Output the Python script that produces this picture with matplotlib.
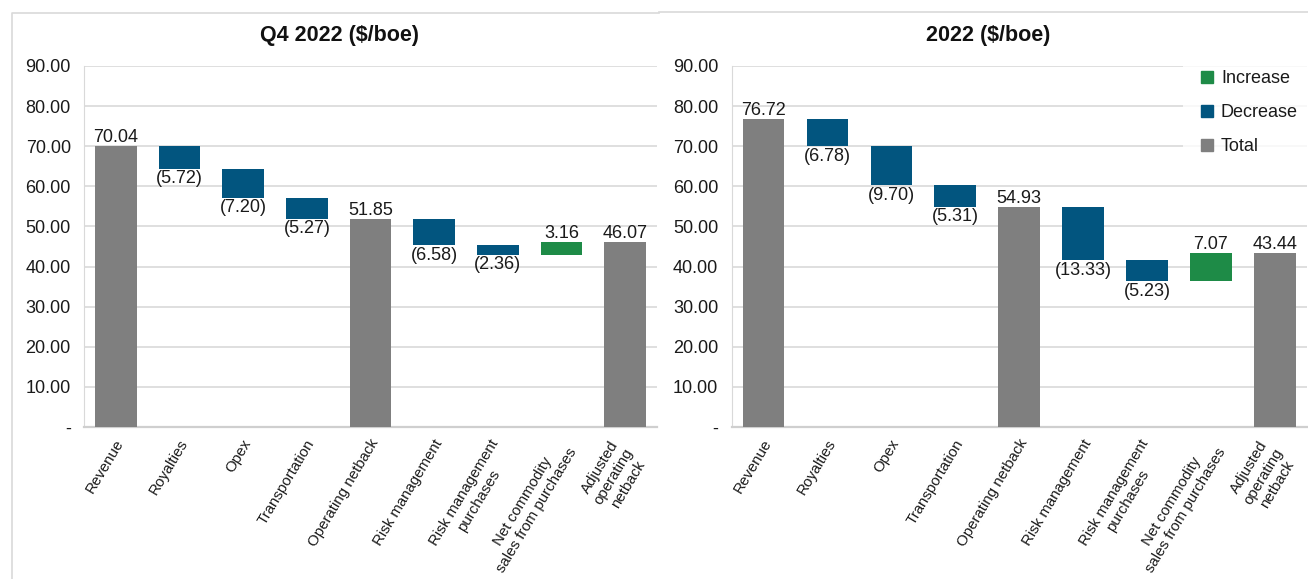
import numpy as np
import matplotlib
matplotlib.use("Agg")
import matplotlib.pyplot as plt
from matplotlib.patches import Patch
from matplotlib.lines import Line2D
from matplotlib.ticker import FuncFormatter

plt.rcParams['font.family'] = ['Liberation Sans', 'DejaVu Sans']

# categories and values ($/boe)
categories = ['Revenue', 'Royalties', 'Opex', 'Transportation', 'Operating netback',
              'Risk management', 'Risk management\npurchases',
              'Net commodity\nsales from purchases', 'Adjusted\noperating\nnetback']
kinds = ['total', 'dec', 'dec', 'dec', 'total', 'dec', 'dec', 'inc', 'total']
q4_values = [70.04, -5.72, -7.20, -5.27, 51.85, -6.58, -2.36, 3.16, 46.07]
fy_values = [76.72, -6.78, -9.70, -5.31, 54.93, -13.33, -5.23, 7.07, 43.44]
yticks = [0, 10, 20, 30, 40, 50, 60, 70, 80, 90]

colors = {'inc': '#1E8B47', 'dec': '#02557F', 'total': '#7F7F7F'}
grid_c = '#D9D9D9'
txt_c = '#1a1a1a'

W, H = 1308, 579
fig = plt.figure(figsize=(W / 100, H / 100), dpi=100)


def px(x0, y_top, x1, y_bot):
    return [x0 / W, 1 - y_bot / H, (x1 - x0) / W, (y_bot - y_top) / H]


# panel frames (left panel: left + top edge, right panel: top edge)
fig.add_artist(Line2D([12 / W, 12 / W, 659 / W], [0, 1 - 13 / H, 1 - 13 / H],
                      transform=fig.transFigure, color=grid_c, lw=1.2))
fig.add_artist(Line2D([659 / W, 1], [1 - 12 / H, 1 - 12 / H],
                      transform=fig.transFigure, color=grid_c, lw=1.2))


def waterfall(ax, values):
    x = np.arange(len(values))
    running = 0.0
    for i, (v, k) in enumerate(zip(values, kinds)):
        if k == 'total':
            bottom, height = 0, v
            running = v
            top = v
        else:
            prev = running
            running = prev + v
            bottom, height = min(prev, running), abs(v)
            top = max(prev, running)
        ax.bar(x[i], height, bottom=bottom, width=0.65, color=colors[k], zorder=3)
        if k == 'dec':
            ax.annotate('(%.2f)' % abs(v), (x[i], bottom), xytext=(0, -1), textcoords='offset points',
                        ha='center', va='top', fontsize=13, color=txt_c)
        else:
            ax.annotate('%.2f' % v, (x[i], top), xytext=(0, 0), textcoords='offset points',
                        ha='center', va='bottom', fontsize=13, color=txt_c)
    ax.set_xlim(-0.5, len(values) - 0.5)
    ax.set_ylim(0, 90)
    ax.set_yticks(yticks)
    ax.yaxis.set_major_formatter(FuncFormatter(lambda v, p: '-' if v == 0 else '%.2f' % v))
    ax.set_xticks(x)
    ax.set_xticklabels([])
    # rotated category labels, anchored at the right-middle of each text block
    for i, lab in enumerate(categories):
        n = lab.count('\n') + 1
        ax.annotate(lab, (x[i], 0), xycoords=('data', 'axes fraction'),
                    xytext=(3.5, -(9 + 4.4 * n) * 0.72), textcoords='offset points',
                    rotation=59, rotation_mode='anchor', ha='right', va='center',
                    multialignment='center', fontsize=10.8, color=txt_c,
                    annotation_clip=False)
    ax.tick_params(axis='y', length=0, pad=9.5, labelsize=13, labelcolor=txt_c)
    ax.tick_params(axis='x', length=0)
    ax.grid(axis='y', color=grid_c, lw=1.2, zorder=0)
    for s in ['top', 'right']:
        ax.spines[s].set_visible(False)
    ax.spines['left'].set_color(grid_c)
    ax.spines['bottom'].set_color('#CFCFCF')
    ax.spines['bottom'].set_linewidth(1.6)


ax1 = fig.add_axes(px(84, 66, 657, 427))
waterfall(ax1, q4_values)
ax2 = fig.add_axes(px(731.5, 66, 1306.7, 427))
waterfall(ax2, fy_values)

fig.text(339 / W, 1 - 36 / H, 'Q4 2022 ($/boe)', ha='center', va='center',
         fontsize=15.5, fontweight='bold', color='#111111')
fig.text(988 / W, 1 - 36 / H, '2022 ($/boe)', ha='center', va='center',
         fontsize=15.5, fontweight='bold', color='#111111')

handles = [Patch(color=colors['inc'], label='Increase'),
           Patch(color=colors['dec'], label='Decrease'),
           Patch(color=colors['total'], label='Total')]
leg = fig.legend(handles=handles, loc='upper left', bbox_to_anchor=(1183 / W, 1 - 52 / H),
                 fontsize=13, frameon=True, borderpad=1.0, borderaxespad=0,
                 handlelength=0.65, handleheight=0.65, handletextpad=0.45,
                 labelspacing=0.95, fancybox=False)
leg.get_frame().set_facecolor('white')
leg.get_frame().set_edgecolor('none')
for t in leg.get_texts():
    t.set_color(txt_c)

fig.savefig('out.png', dpi=100)
